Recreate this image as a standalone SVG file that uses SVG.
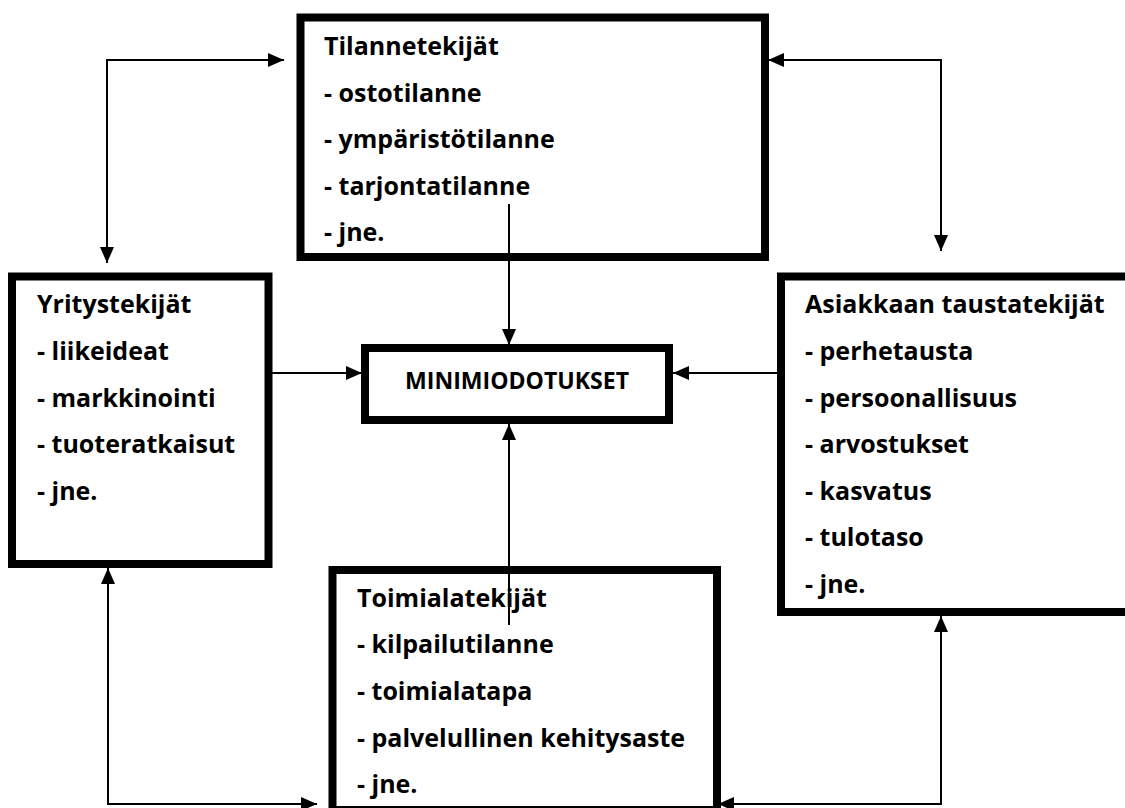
<svg xmlns="http://www.w3.org/2000/svg" width="1125" height="808" viewBox="0 0 1125 808">
<style>
.box{fill:#fff;stroke:#000;stroke-width:8}
.t{font-family:"Open Sans","Noto Sans","DejaVu Sans",sans-serif;font-weight:700;font-size:25px;fill:#000}
.m{font-family:"Open Sans","Noto Sans","DejaVu Sans",sans-serif;font-weight:700;font-size:24px;fill:#000}
.c{fill:none;stroke:#000;stroke-width:2}
</style>
<defs>
<marker id="ah" markerUnits="userSpaceOnUse" markerWidth="16" markerHeight="14" refX="16" refY="7" orient="auto-start-reverse">
<path d="M0,0 L16,7 L0,14 z" fill="#000"/>
</marker>
</defs>
<rect width="1125" height="808" fill="#fff"/>
<g id="tilannetekijat">
<rect class="box" x="300.5" y="17.5" width="464.5" height="239.5"/>
<text class="t" x="324" y="55">Tilannetekijät</text>
<text class="t" x="324" y="101.5">- ostotilanne</text>
<text class="t" x="324" y="148">- ympäristötilanne</text>
<text class="t" x="324" y="194.5">- tarjontatilanne</text>
<text class="t" x="324" y="241">- jne.</text>
</g>
<g id="yritystekijat">
<rect class="box" x="12" y="276.5" width="256.5" height="287.5"/>
<text class="t" x="37" y="313.3">Yritystekijät</text>
<text class="t" x="37" y="360">- liikeideat</text>
<text class="t" x="37" y="406.7">- markkinointi</text>
<text class="t" x="37" y="453">- tuoteratkaisut</text>
<text class="t" x="37" y="500">- jne.</text>
</g>
<g id="minimiodotukset">
<rect class="box" x="365" y="348" width="304" height="72"/>
<text class="m" x="405" y="389" textLength="224" lengthAdjust="spacingAndGlyphs">MINIMIODOTUKSET</text>
</g>
<g id="asiakkaan">
<rect class="box" x="781" y="276.5" width="400" height="335.5"/>
<text class="t" x="805" y="313.3">Asiakkaan taustatekijät</text>
<text class="t" x="805" y="360">- perhetausta</text>
<text class="t" x="805" y="406.7">- persoonallisuus</text>
<text class="t" x="805" y="453">- arvostukset</text>
<text class="t" x="805" y="499.5">- kasvatus</text>
<text class="t" x="805" y="546">- tulotaso</text>
<text class="t" x="805" y="592.7">- jne.</text>
</g>
<g id="toimialatekijat">
<rect class="box" x="332.5" y="570" width="384.5" height="240"/>
<text class="t" x="357" y="606.7">Toimialatekijät</text>
<text class="t" x="357" y="653.3">- kilpailutilanne</text>
<text class="t" x="357" y="700">- toimialatapa</text>
<text class="t" x="357" y="746.7">- palvelullinen kehitysaste</text>
<text class="t" x="357" y="793">- jne.</text>
</g>
<g id="connectors">
<path class="c" d="M284,60 H107 V263" marker-start="url(#ah)" marker-end="url(#ah)"/>
<path class="c" d="M768,60 H941 V251" marker-start="url(#ah)" marker-end="url(#ah)"/>
<path class="c" d="M108,568 V804 H317" marker-start="url(#ah)" marker-end="url(#ah)"/>
<path class="c" d="M941,616 V804 H718" marker-start="url(#ah)" marker-end="url(#ah)"/>
<path class="c" d="M272,373 H362" marker-end="url(#ah)"/>
<path class="c" d="M781,373 H673" marker-end="url(#ah)"/>
<path class="c" d="M509,204 V345" marker-end="url(#ah)"/>
<path class="c" d="M509,625 V424" marker-end="url(#ah)"/>
</g>
</svg>
